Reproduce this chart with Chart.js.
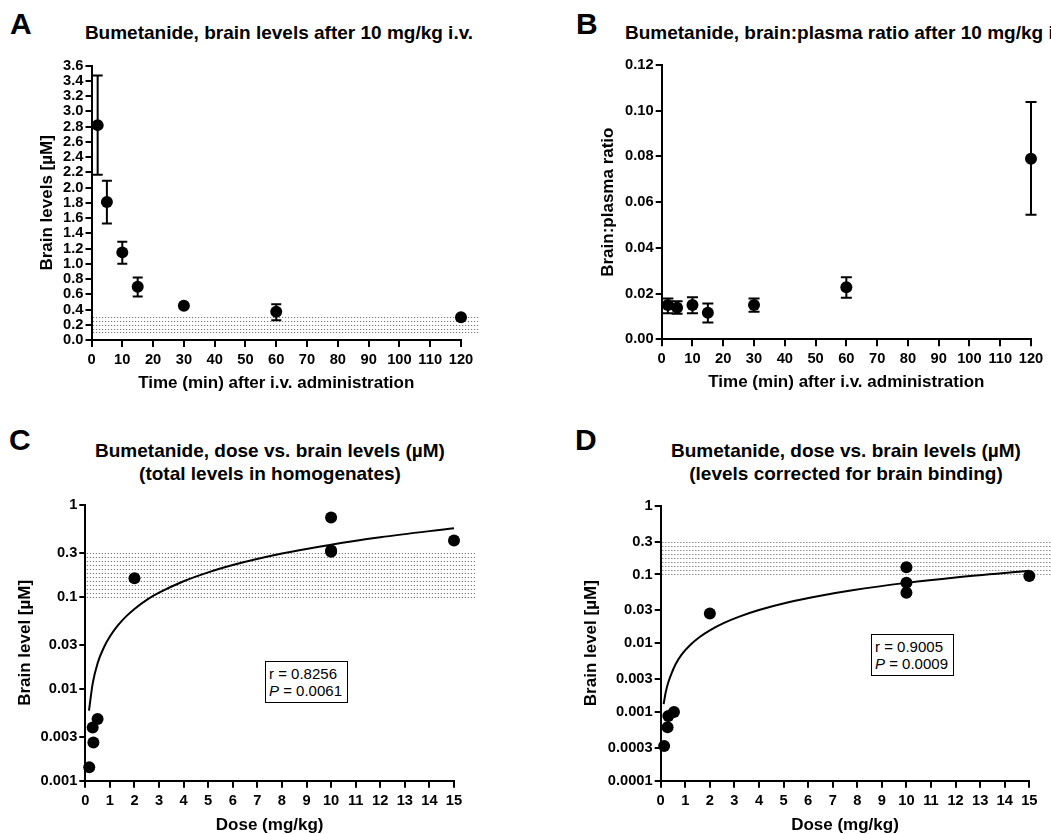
<!DOCTYPE html>
<html><head><meta charset="utf-8">
<script src="https://cdn.jsdelivr.net/npm/chart.js@4/dist/chart.umd.min.js"></script>
<style>
html,body{margin:0;padding:0;background:#fff;width:1051px;height:834px;overflow:hidden;position:relative;font-family:"Liberation Sans",Arial,sans-serif;color:#000}
canvas{position:absolute}
.lbl{position:absolute;font-weight:bold;font-size:30px;line-height:30px}
.ttl{position:absolute;font-weight:bold;font-size:19px;line-height:23px;white-space:nowrap;text-align:center}
.stat{position:absolute;border:1.5px solid #000;font-size:15px;line-height:17px;padding:3px 5px 3px 3px;white-space:nowrap;background:#fff}
</style></head><body>
<div class="lbl" style="left:10px;top:9px">A</div>
<div class="lbl" style="left:576px;top:9px">B</div>
<div class="lbl" style="left:9px;top:425px">C</div>
<div class="lbl" style="left:575px;top:425px">D</div>
<div class="ttl" style="left:0;width:558px;top:20.5px">Bumetanide, brain levels after 10 mg/kg i.v.</div>
<div class="ttl" style="left:625px;top:20.5px;text-align:left">Bumetanide, brain:plasma ratio after 10 mg/kg i.v.</div>
<div class="ttl" style="left:0;width:540px;top:438.7px">Bumetanide, dose vs. brain levels (µM)<br>(total levels in homogenates)</div>
<div class="ttl" style="left:646px;width:400px;top:438.7px">Bumetanide, dose vs. brain levels (µM)<br>(levels corrected for brain binding)</div>
<canvas id="cA" width="540" height="410" style="left:0;top:0"></canvas>
<canvas id="cB" width="511" height="410" style="left:540px;top:0"></canvas>
<canvas id="cC" width="540" height="430" style="left:0;top:410px"></canvas>
<canvas id="cD" width="511" height="430" style="left:540px;top:410px"></canvas>
<div class="stat" style="left:265px;top:661px">r = 0.8256<br><i>P</i> = 0.0061</div>
<div class="stat" style="left:871px;top:634px">r = 0.9005<br><i>P</i> = 0.0009</div>
<script>
// ---- Panel A: brain levels vs time ----
const timeA = [2, 5, 10, 15, 30, 60, 120];
const brainA = [2.82, 1.81, 1.15, 0.70, 0.45, 0.37, 0.30];
const brainLowA = [2.17, 1.53, 1.00, 0.57, null, 0.26, null];
const brainHighA = [3.47, 2.09, 1.29, 0.82, null, 0.47, null];
// ---- Panel B: brain:plasma ratio vs time ----
const timeB = [2, 5, 10, 15, 30, 60, 120];
const ratioB = [0.015, 0.0138, 0.015, 0.0116, 0.015, 0.0228, 0.079];
const ratioLowB = [0.0114, 0.0112, 0.0114, 0.0073, 0.0121, 0.0182, 0.0545];
const ratioHighB = [0.0179, 0.0166, 0.0184, 0.0157, 0.0179, 0.0272, 0.1038];
// ---- Panel C: dose vs total brain level ----
const doseC = [0.16, 0.3, 0.33, 0.5, 2, 10, 10, 10, 15];
const levelC = [0.0014, 0.0038, 0.0026, 0.0047, 0.16, 0.73, 0.32, 0.31, 0.41];
const fitDoseC = [0.15, 0.3, 0.5, 0.75, 1, 1.3, 1.65, 2, 2.5, 3, 4, 5, 6, 8, 10, 12, 15];
const fitLevelC = [0.0058, 0.0114, 0.019, 0.028, 0.037, 0.048, 0.061, 0.074, 0.093, 0.111, 0.148, 0.185, 0.222, 0.296, 0.37, 0.445, 0.56];
// ---- Panel D: dose vs corrected brain level ----
const doseD = [0.14, 0.28, 0.31, 0.54, 2, 10, 10, 10, 15];
const levelD = [0.00032, 0.0006, 0.00087, 0.001, 0.027, 0.127, 0.076, 0.054, 0.095];
const fitDoseD = [0.12, 0.2, 0.31, 0.45, 0.6, 0.85, 1.2, 1.6, 2, 2.6, 3.2, 4, 5.2, 6.5, 7.8, 10, 12, 15];
const fitLevelD = [0.0013, 0.0019, 0.0027, 0.0037, 0.0049, 0.0068, 0.0094, 0.0124, 0.0154, 0.0199, 0.0244, 0.0304, 0.0394, 0.0491, 0.0589, 0.0754, 0.0904, 0.113];
// ---- shaded target range and ticks ----
const bandRange = [0.1, 0.3];
const ticksLogC = [1, 0.3, 0.1, 0.03, 0.01, 0.003, 0.001];
const tickLabelsLogC = ['1', '0.3', '0.1', '0.03', '0.01', '0.003', '0.001'];
const ticksLogD = [1, 0.3, 0.1, 0.03, 0.01, 0.003, 0.001, 0.0003, 0.0001];
const tickLabelsLogD = ['1', '0.3', '0.1', '0.03', '0.01', '0.003', '0.001', '0.0003', '0.0001'];

Chart.defaults.font.family = '"Liberation Sans", Arial, sans-serif';
Chart.defaults.color = '#000';

const pts = (xs, ys) => xs.map((x, i) => ({x: x, y: ys[i]}));

function extras(cfg) {
  return {
    id: 'extras',
    beforeDatasetsDraw(chart) {
      if (!cfg.band) return;
      const {ctx, chartArea} = chart; const ys = chart.scales.y;
      const yTop = ys.getPixelForValue(cfg.band[1]), yBot = ys.getPixelForValue(cfg.band[0]);
      const n = Math.max(1, Math.round((yBot - yTop) / cfg.bandStep));
      const step = (yBot - yTop) / n;
      ctx.save(); ctx.strokeStyle = '#777'; ctx.lineWidth = 1; ctx.setLineDash([1.2, 1.8]);
      for (let k = 0; k <= n; k++) {
        const y = Math.round(yTop + k * step) + 0.5;
        ctx.beginPath(); ctx.moveTo(chartArea.left + 1.5, y); ctx.lineTo(chartArea.right + cfg.bandExtend, y); ctx.stroke();
      }
      ctx.restore();
    },
    afterDatasetsDraw(chart) {
      if (!cfg.err) return;
      const {ctx} = chart; const xs = chart.scales.x, ys = chart.scales.y;
      ctx.save(); ctx.strokeStyle = '#000'; ctx.lineWidth = 2;
      cfg.err.x.forEach((xv, i) => {
        const lo = cfg.err.lo[i], hi = cfg.err.hi[i];
        if (lo == null) return;
        const px = xs.getPixelForValue(xv), pl = ys.getPixelForValue(lo), ph = ys.getPixelForValue(hi), w = cfg.err.cap / 2;
        ctx.beginPath();
        ctx.moveTo(px, pl); ctx.lineTo(px, ph);
        ctx.moveTo(px - w, pl); ctx.lineTo(px + w, pl);
        ctx.moveTo(px - w, ph); ctx.lineTo(px + w, ph);
        ctx.stroke();
      });
      ctx.restore();
    }
  };
}

function axis(titleText, pos, size, tickLen, pad) {
  return {
    position: pos,
    border: {display: true, color: '#000', width: 2},
    grid: {display: true, drawOnChartArea: false, drawTicks: true, tickLength: tickLen, color: '#000', lineWidth: 2},
    ticks: {color: '#000', font: {size: 14.7, weight: 'bold'}, padding: pad, autoSkip: false, maxRotation: 0, minRotation: 0},
    title: {display: true, text: titleText, color: '#000', font: {size: 17, weight: 'bold'}, padding: 0},
    afterFit(s) { if (pos === 'left') s.width = size; else s.height = size; }
  };
}

function make(id, W, H, area, yW, xH, datasets, xOpt, yOpt, plug) {
  new Chart(document.getElementById(id), {
    type: 'scatter',
    data: {datasets: datasets},
    options: {
      responsive: false, animation: false, events: [],
      layout: {padding: {left: area.left - yW, right: W - area.right, top: area.top, bottom: H - area.bottom - xH}},
      plugins: {legend: {display: false}, tooltip: {enabled: false}, title: {display: false}},
      scales: {x: Object.assign(axis(xOpt.title, 'bottom', xH, 7, 4), xOpt.extra), y: Object.assign(axis(yOpt.title, 'left', yW, 6, 2), yOpt.extra)}
    },
    plugins: [plug]
  });
}

const dot = {pointRadius: 6, pointBackgroundColor: '#000', pointBorderWidth: 0, pointBorderColor: '#000', showLine: false, clip: false};
const fitStyle = {showLine: true, pointRadius: 0, borderColor: '#000', borderWidth: 2, cubicInterpolationMode: 'monotone', clip: false};
const tickFont = {size: 14.7, weight: 'bold'};

// A
make('cA', 540, 410, {left: 91.5, right: 461, top: 65.7, bottom: 340}, 54.7, 53.2,
  [Object.assign({data: pts(timeA, brainA)}, dot)],
  {title: 'Time (min) after i.v. administration', extra: {type: 'linear', min: 0, max: 120, ticks: {color: '#000', font: tickFont, padding: 4, autoSkip: false, maxRotation: 0, minRotation: 0, stepSize: 10}}},
  {title: 'Brain levels [µM]', extra: {type: 'linear', min: 0, max: 3.6, ticks: {color: '#000', font: tickFont, padding: 2, autoSkip: false, stepSize: 0.2, callback: v => v.toFixed(1)}}},
  extras({band: bandRange, bandStep: 3.8, bandExtend: 19, err: {x: timeA, lo: brainLowA, hi: brainHighA, cap: 10}}));

// B
make('cB', 511, 410, {left: 121.7, right: 491, top: 65, bottom: 339.3}, 63.9, 53.2,
  [Object.assign({data: pts(timeB, ratioB)}, dot)],
  {title: 'Time (min) after i.v. administration', extra: {type: 'linear', min: 0, max: 120, ticks: {color: '#000', font: tickFont, padding: 4, autoSkip: false, maxRotation: 0, minRotation: 0, stepSize: 10}}},
  {title: 'Brain:plasma ratio', extra: {type: 'linear', min: 0, max: 0.12, ticks: {color: '#000', font: tickFont, padding: 2, autoSkip: false, stepSize: 0.02, callback: v => v.toFixed(2)}}},
  extras({err: {x: timeB, lo: ratioLowB, hi: ratioHighB, cap: 11}}));

// C
make('cC', 540, 430, {left: 85.3, right: 454, top: 95, bottom: 370.7}, 70.5, 54.5,
  [Object.assign({data: pts(fitDoseC, fitLevelC)}, fitStyle), Object.assign({data: pts(doseC, levelC)}, dot)],
  {title: 'Dose (mg/kg)', extra: {type: 'linear', min: 0, max: 15, ticks: {color: '#000', font: tickFont, padding: 4, autoSkip: false, maxRotation: 0, minRotation: 0, stepSize: 1}}},
  {title: 'Brain level [µM]', extra: {type: 'logarithmic', min: 0.001, max: 1,
    afterBuildTicks(s) { s.ticks = ticksLogC.map(v => ({value: v, major: false})); },
    ticks: {color: '#000', font: tickFont, padding: 2, autoSkip: false, callback: (v, i) => tickLabelsLogC[i]}}},
  extras({band: bandRange, bandStep: 4, bandExtend: 21}));

// D
make('cD', 511, 430, {left: 120.7, right: 489.3, top: 95.7, bottom: 370.7}, 79.2, 54.5,
  [Object.assign({data: pts(fitDoseD, fitLevelD)}, fitStyle), Object.assign({data: pts(doseD, levelD)}, dot)],
  {title: 'Dose (mg/kg)', extra: {type: 'linear', min: 0, max: 15, ticks: {color: '#000', font: tickFont, padding: 4, autoSkip: false, maxRotation: 0, minRotation: 0, stepSize: 1}}},
  {title: 'Brain level [µM]', extra: {type: 'logarithmic', min: 0.0001, max: 1,
    afterBuildTicks(s) { s.ticks = ticksLogD.map(v => ({value: v, major: false})); },
    ticks: {color: '#000', font: tickFont, padding: 2, autoSkip: false, callback: (v, i) => tickLabelsLogD[i]}}},
  extras({band: bandRange, bandStep: 4.2, bandExtend: 30}));
</script>
</body></html>
